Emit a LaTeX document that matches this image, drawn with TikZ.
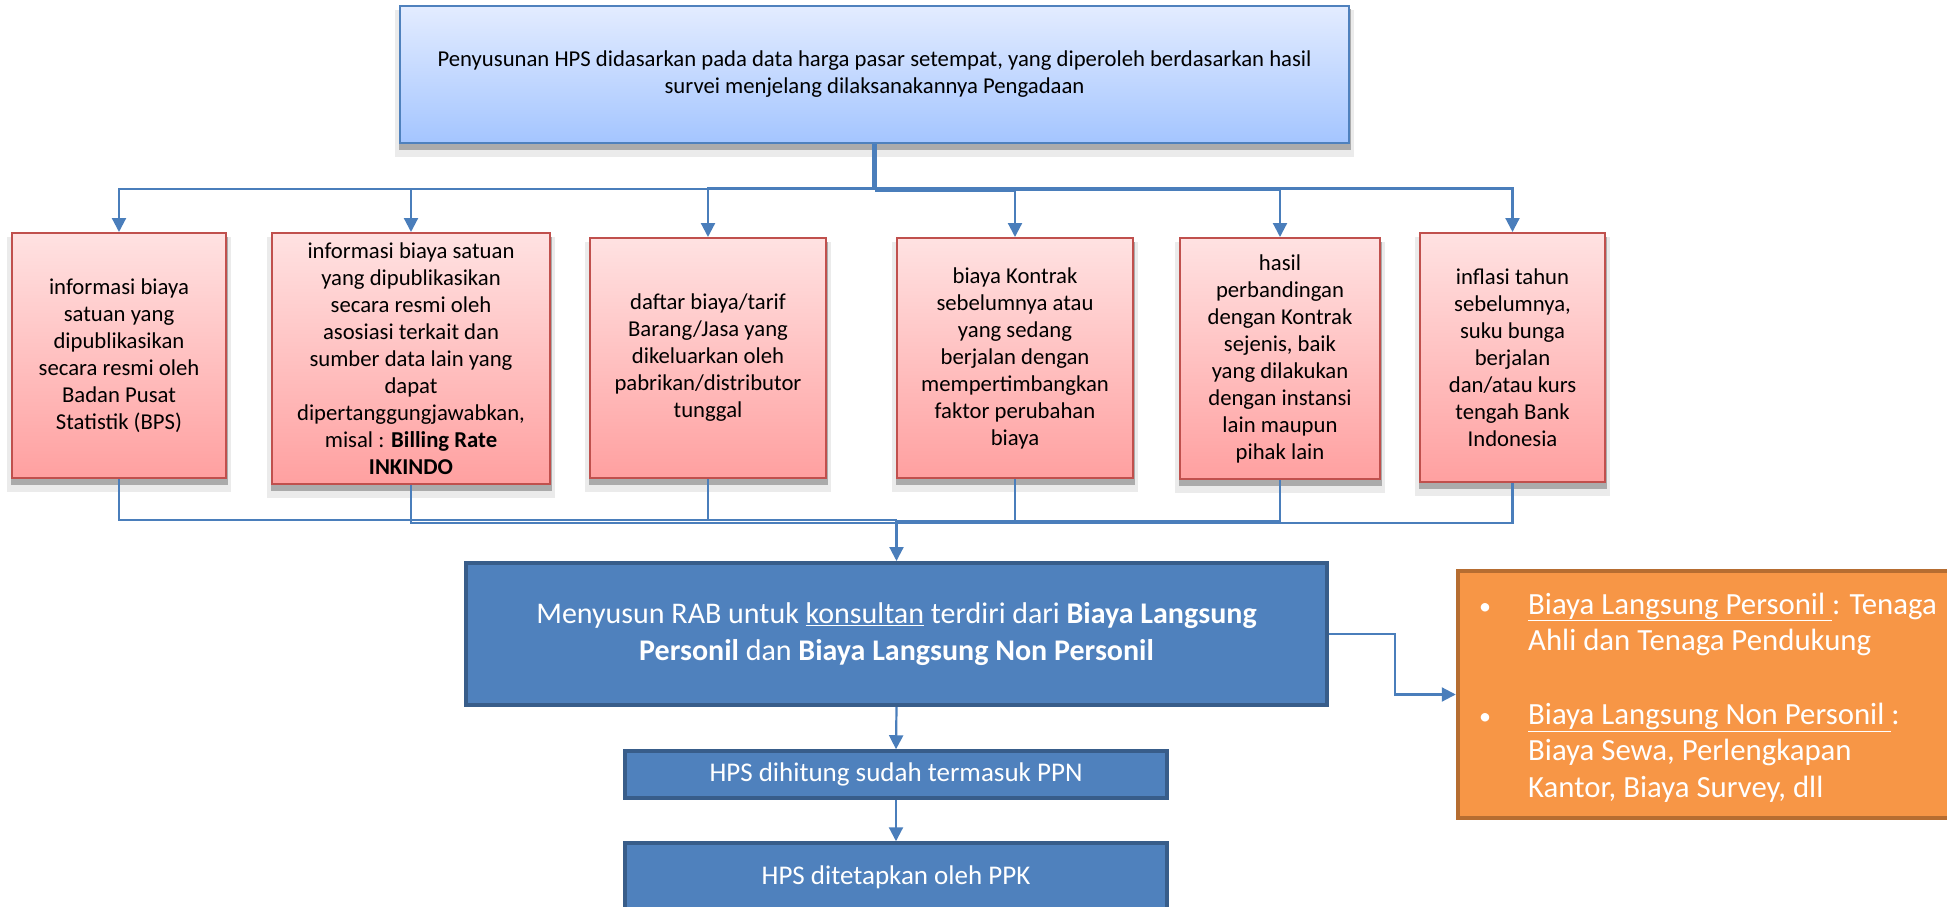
\documentclass[tikz,border=0pt]{standalone}
\usepackage{fontspec}
\setmainfont{Carlito}
\usetikzlibrary{arrows.meta}

\definecolor{lineblue}{RGB}{74,126,187}
\definecolor{topA}{RGB}{227,236,255}
\definecolor{topB}{RGB}{164,197,255}
\definecolor{topline}{RGB}{79,129,189}
\definecolor{redA}{RGB}{255,226,226}
\definecolor{redB}{RGB}{255,160,160}
\definecolor{redline}{RGB}{192,80,77}
\definecolor{rabfill}{RGB}{79,129,189}
\definecolor{rabline}{RGB}{56,93,138}
\definecolor{orfill}{RGB}{247,150,70}
\definecolor{orline}{RGB}{182,109,49}

\newcommand{\smallbullet}{\makebox[50pt][l]{\hspace{1pt}\fontsize{24}{24}\selectfont•}}

\begin{document}
\begin{tikzpicture}[x=1pt,y=-1pt,
  softshadow/.style={
    preaction={fill=black!8, draw=black!8, line width=10pt, transform canvas={yshift=-9pt}},
    preaction={fill=black!33, draw=black!33, line width=3pt, transform canvas={yshift=-5pt}}},
  topbox/.style={softshadow, draw=topline, line width=2pt, top color=topA, bottom color=topB,
    inner sep=0pt, align=center, font=\fontsize{22.7}{27}\selectfont},
  redbox/.style={softshadow, draw=redline, line width=2pt, top color=redA, bottom color=redB,
    inner sep=0pt, align=center, font=\fontsize{22.7}{27}\selectfont},
  rabbox/.style={draw=rabline, line width=4pt, fill=rabfill, text=white, inner sep=0pt, align=center},
  orbox/.style={draw=orline, line width=4.5pt, fill=orfill, inner sep=0pt},
  conn/.style={draw=lineblue, line width=2.2pt},
  arr/.style={-{Triangle[width=14pt,length=14pt]}}
]
\useasboundingbox (0,0) rectangle (1947,907);
\clip (0,0) rectangle (1947,907);

% top statement
\node[topbox, minimum width=949pt, minimum height=137pt] (top) at (874.5,74.5)
  {Penyusunan HPS didasarkan pada data harga pasar setempat, yang diperoleh berdasarkan hasil\\
   survei menjelang dilaksanakannya Pengadaan};

% six data sources
\node[redbox, minimum width=214pt, minimum height=245pt] (b1) at (119,355.5)
  {informasi biaya\\satuan yang\\dipublikasikan\\secara resmi oleh\\Badan Pusat\\Statistik (BPS)};
\node[redbox, minimum width=278pt, minimum height=251pt] (b2) at (411,358.5)
  {informasi biaya satuan\\yang dipublikasikan\\secara resmi oleh\\asosiasi terkait dan\\sumber data lain yang\\dapat\\dipertanggungjawabkan,\\misal : \textbf{Billing Rate}\\\textbf{INKINDO}};
\node[redbox, minimum width=236pt, minimum height=240pt] (b3) at (708,358)
  {daftar biaya/tarif\\Barang/Jasa yang\\dikeluarkan oleh\\pabrikan/distributor\\tunggal};
\node[redbox, minimum width=236pt, minimum height=240pt] (b4) at (1015,358)
  {biaya Kontrak\\sebelumnya atau\\yang sedang\\berjalan dengan\\mempertimbangkan\\faktor perubahan\\biaya};
\node[redbox, minimum width=200pt, minimum height=241pt] (b5) at (1280,358.5)
  {hasil\\perbandingan\\dengan Kontrak\\sejenis, baik\\yang dilakukan\\dengan instansi\\lain maupun\\pihak lain};
\node[redbox, minimum width=185pt, minimum height=249pt] (b6) at (1512.5,357.5)
  {inflasi tahun\\sebelumnya,\\suku bunga\\berjalan\\dan/atau kurs\\tengah Bank\\Indonesia};

% budget plan and follow-up steps
\node[rabbox, minimum width=861pt, minimum height=142pt, font=\fontsize{30}{36.7}\selectfont] (rab) at (896.5,634)
  {Menyusun RAB untuk \underline{konsultan} terdiri dari \textbf{Biaya Langsung}\\
   \textbf{Personil} dan \textbf{Biaya Langsung Non Personil}};
\node[rabbox, line width=3.5pt, minimum width=542pt, minimum height=47pt, font=\fontsize{27}{32}\selectfont] (hps1) at (896,774.5)
  {HPS dihitung sudah termasuk PPN};
\node[rabbox, line width=3.5pt, minimum width=542pt, minimum height=68pt, font=\fontsize{27}{32}\selectfont] (hps2) at (896,877)
  {HPS ditetapkan oleh PPK};

% cost component notes
\node[orbox, minimum width=532pt, minimum height=247pt] (orange) at (1724,694.5) {};
\node[anchor=base west, text=white, inner sep=0pt, font=\fontsize{30.8}{36.7}\selectfont] (otext) at (1478,614)
  {\begin{tabular}[t]{@{}l@{}l@{}}
   \smallbullet & \underline{Biaya Langsung Personil\ }: Tenaga\\
   & Ahli dan Tenaga Pendukung\\
   & \\
   \smallbullet & \underline{Biaya Langsung Non Personil\ }:\\
   & Biaya Sewa, Perlengkapan\\
   & Kantor, Biaya Survey, dll
   \end{tabular}};

% distribution from the statement to the sources
\coordinate (jt) at (874.5,189);
\draw[conn, line width=5pt] (top.south) -- (jt);
\draw[conn, arr] ([yshift=0pt]jt) -| (b1.north);
\draw[conn, arr] ([yshift=0pt]jt) -| (b2.north);
\draw[conn, arr] ([yshift=1pt]jt) -| (b3.north);
\draw[conn, arr] ([yshift=-1.5pt]jt) -| (b4.north);
\draw[conn, arr] ([yshift=-1pt]jt) -| (b5.north);
\draw[conn, arr] ([yshift=0.5pt]jt) -| (b6.north);

% collection from the sources into the budget plan
\coordinate (jb) at (896.5,521);
\draw[conn] (b1.south) |- ([yshift=1pt]jb);
\draw[conn] (b2.south) |- ([yshift=-2pt]jb);
\draw[conn] (b3.south) |- ([yshift=1pt]jb);
\draw[conn] (b4.south) |- ([yshift=-0.5pt]jb);
\draw[conn] (b5.south) |- ([yshift=-0.5pt]jb);
\draw[conn] (b6.south) |- ([yshift=-2pt]jb);
\draw[conn, arr] (jb) -- (rab.north);

% downstream steps
\draw[conn, arr] (rab.south) -- (hps1.north);
\draw[conn, arr] (hps1.south) -- (hps2.north);
\draw[conn, arr] (rab.east) -- ++(66,0) |- (orange.west);
\end{tikzpicture}
\end{document}
